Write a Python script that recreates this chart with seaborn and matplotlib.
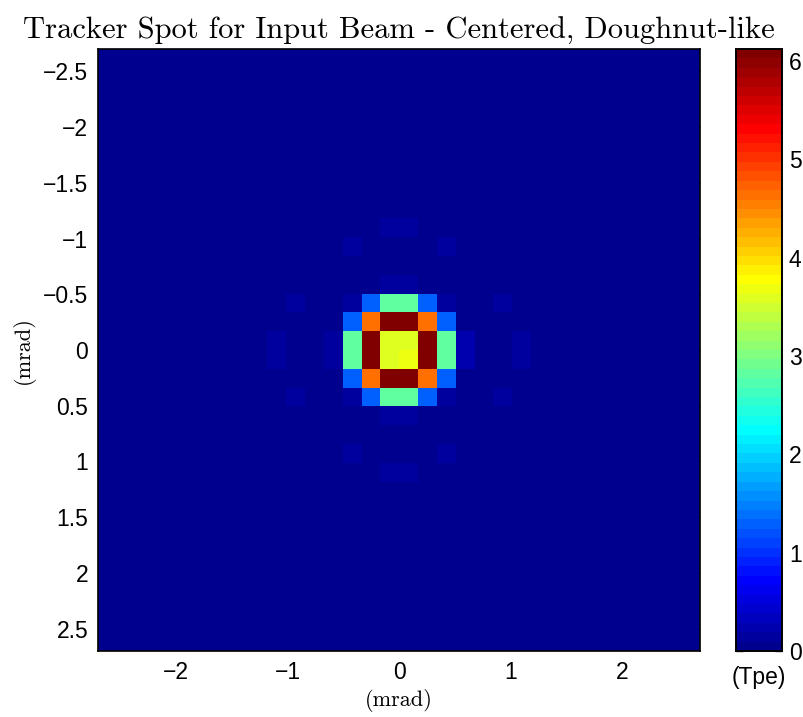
import numpy as np
import seaborn as sns
import matplotlib.pyplot as plt
from matplotlib.colors import ListedColormap

sns.set_style('white')
plt.rcParams['font.family'] = ['Liberation Sans', 'DejaVu Sans']
plt.rcParams['text.color'] = 'black'
plt.rcParams['axes.labelcolor'] = 'black'

# tracker spot: 32 x 32 cells over +-2.7 mrad, only the centre has signal
n_cells = 32
half_width = 2.7
core_start = 9  # first row/col of the block below

# values (Tpe), rows 9..22, cols 9..22
core = [
    [0, 0, 0, 0, 0, 0, 0.14, 0.14, 0, 0, 0, 0, 0, 0],
    [0, 0, 0, 0, 0.14, 0, 0, 0, 0, 0.14, 0, 0, 0, 0],
    [0, 0, 0, 0, 0, 0, 0, 0, 0, 0, 0, 0, 0, 0],
    [0, 0, 0, 0, 0, 0, 0.14, 0.14, 0, 0, 0, 0, 0, 0],
    [0, 0.14, 0, 0, 0.14, 1.32, 2.82, 2.82, 1.32, 0.14, 0, 0, 0.14, 0],
    [0, 0, 0, 0, 1.32, 4.65, 6.10, 6.10, 4.65, 1.32, 0, 0, 0, 0],
    [0.14, 0, 0, 0.14, 2.82, 6.10, 3.60, 3.60, 6.10, 2.82, 0.26, 0, 0, 0.14],
    [0.14, 0, 0, 0.14, 2.82, 6.12, 3.60, 3.70, 6.10, 2.82, 0.26, 0, 0, 0.14],
    [0, 0, 0, 0, 1.32, 4.65, 6.10, 6.10, 4.65, 1.32, 0, 0, 0, 0],
    [0, 0.14, 0, 0, 0.14, 1.32, 2.82, 2.82, 1.32, 0.14, 0, 0, 0.14, 0],
    [0, 0, 0, 0, 0, 0, 0.14, 0.14, 0, 0, 0, 0, 0, 0],
    [0, 0, 0, 0, 0, 0, 0, 0, 0, 0, 0, 0, 0, 0],
    [0, 0, 0, 0, 0.14, 0, 0, 0, 0, 0.14, 0, 0, 0, 0],
    [0, 0, 0, 0, 0, 0, 0.14, 0.14, 0, 0, 0, 0, 0, 0],
]
vmin, vmax = 0, 6.12

x_ticks = [-2, -1, 0, 1, 2]
y_ticks = [-2.5, -2, -1.5, -1, -0.5, 0, 0.5, 1, 1.5, 2, 2.5]
cbar_ticks = [0, 1, 2, 3, 4, 5, 6]

spot = np.zeros((n_cells, n_cells))
core = np.array(core)
spot[core_start:core_start + len(core), core_start:core_start + len(core)] = core

# matlab style jet(64)
k = np.arange(64)
r = np.clip(np.where(k < 56, 0.0625 * (k - 23), 1 - 0.0625 * (k - 55)), 0, 1)
g = np.clip(np.where(k < 40, 0.0625 * (k - 7), 1 - 0.0625 * (k - 39)), 0, 1)
b = np.clip(np.where(k < 24, 0.5625 + 0.0625 * k, 1 - 0.0625 * (k - 23)), 0, 1)
jet64 = ListedColormap(np.column_stack([r, g, b]))


def to_cell(v):
    return (v + half_width) / (2 * half_width / n_cells)


def fmt(v):
    return f'{v:g}'.replace('-', '\u2212')


fig = plt.figure(figsize=(8.04, 7.17), dpi=100)
ax = fig.add_axes([98 / 804, 66 / 717, 602.5 / 804, 602 / 717])
cax = fig.add_axes([735.7 / 804, 66 / 717, 46.3 / 804, 602 / 717])

sns.heatmap(spot, cmap=jet64, vmin=vmin, vmax=vmax, ax=ax, cbar_ax=cax,
            xticklabels=False, yticklabels=False)

ax.set_xticks([to_cell(v) for v in x_ticks])
ax.set_xticklabels([fmt(v) for v in x_ticks])
ax.set_yticks([to_cell(v) for v in y_ticks])
ax.set_yticklabels([fmt(v) for v in y_ticks], rotation=0)
for s in ax.spines.values():
    s.set_visible(True)
    s.set_linewidth(1.2)
    s.set_color('black')
ax.tick_params(direction='in', top=True, right=True, length=5, width=1,
               labelsize=16.5, pad=7, labelcolor='black')

ax.set_title('Tracker Spot for Input Beam - Centered, Doughnut-like',
             family='cmr10', fontsize=22, pad=7, color='black')
ax.set_xlabel('(mrad)', family='cmr10', fontsize=16, labelpad=4)
ax.set_ylabel('(mrad)', family='cmr10', fontsize=16, labelpad=6)

cax.set_yticks(cbar_ticks)
cax.set_yticklabels([fmt(v) for v in cbar_ticks])
cax.tick_params(direction='in', left=True, right=True, length=5, width=1,
                labelsize=16.5, pad=5, labelcolor='black')
cax.set_xlabel('(Tpe)', fontsize=16.5, labelpad=11)
for s in cax.spines.values():
    s.set_visible(True)
    s.set_linewidth(1.2)
    s.set_color('black')

fig.savefig('out.png', dpi=100)
